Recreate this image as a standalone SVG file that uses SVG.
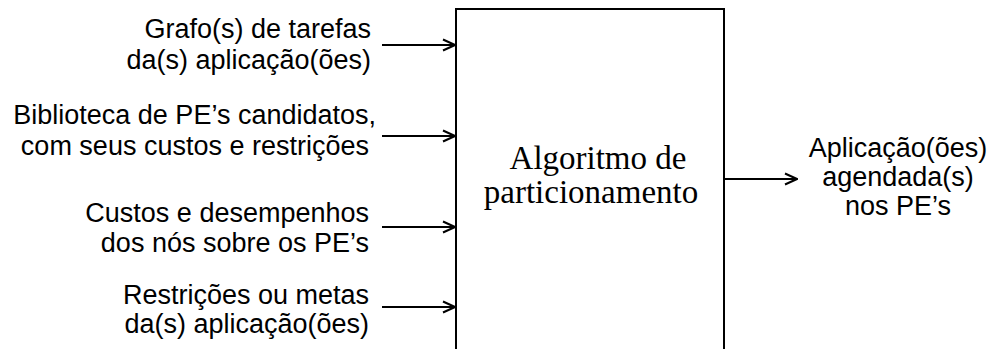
<svg xmlns="http://www.w3.org/2000/svg" width="992" height="349" viewBox="0 0 992 349">
<defs>
<style>
.lbl{font-family:"Liberation Sans",Arial,sans-serif;font-size:27px;fill:#000}
.l{text-anchor:end}
.c{text-anchor:middle}
.ttl{font-family:"Liberation Serif","Times New Roman",serif;font-size:33px;fill:#000;text-anchor:middle}
.box{fill:#fff;stroke:#000;stroke-width:2}
.wire{stroke:#000;stroke-width:2;fill:none}
</style>
<marker id="ah" viewBox="0 0 14 14" refX="13" refY="7" markerWidth="14" markerHeight="14" markerUnits="userSpaceOnUse" orient="auto">
<path d="M1,1.5 L13,7 L1,12.5" fill="none" stroke="#000" stroke-width="2"/>
</marker>
</defs>
<rect width="992" height="349" fill="#fff"/>
<g id="algoritmo">
<rect class="box" x="456" y="9" width="268" height="360"/>
<text class="ttl" x="598" y="169">Algoritmo de</text>
<text class="ttl" x="591" y="203">particionamento</text>
</g>
<g id="in1">
<text class="lbl l" x="371" y="38">Grafo(s) de tarefas</text>
<text class="lbl l" x="371" y="69">da(s) aplicação(ões)</text>
</g>
<g id="in2">
<text class="lbl l" x="376" y="124">Biblioteca de PE’s candidatos,</text>
<text class="lbl l" x="369" y="155">com seus custos e restrições</text>
</g>
<g id="in3">
<text class="lbl l" x="369" y="222">Custos e desempenhos</text>
<text class="lbl l" x="369" y="252">dos nós sobre os PE’s</text>
</g>
<g id="in4">
<text class="lbl l" x="369" y="304">Restrições ou metas</text>
<text class="lbl l" x="369" y="333">da(s) aplicação(ões)</text>
</g>
<g id="out">
<text class="lbl c" x="898" y="157">Aplicação(ões)</text>
<text class="lbl c" x="898" y="186">agendada(s)</text>
<text class="lbl c" x="898" y="215">nos PE’s</text>
</g>
<g id="connectors">
<line class="wire" x1="382" y1="45" x2="455" y2="45" marker-end="url(#ah)"/>
<line class="wire" x1="382" y1="136" x2="455" y2="136" marker-end="url(#ah)"/>
<line class="wire" x1="382" y1="227" x2="455" y2="227" marker-end="url(#ah)"/>
<line class="wire" x1="382" y1="307" x2="455" y2="307" marker-end="url(#ah)"/>
<line class="wire" x1="725" y1="179" x2="797" y2="179" marker-end="url(#ah)"/>
</g>
</svg>
